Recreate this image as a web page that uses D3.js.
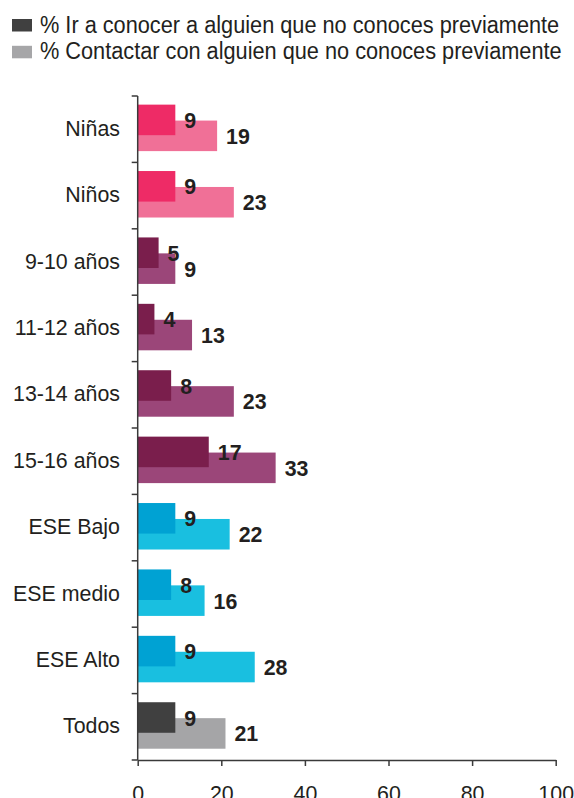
<!DOCTYPE html>
<html>
<head>
<meta charset="utf-8">
<script src="https://cdn.jsdelivr.net/npm/d3@7"></script>
<style>
  html, body { margin: 0; padding: 0; background: #fff; }
  svg { display: block; font-family: Arial, "Liberation Sans", sans-serif; }
</style>
</head>
<body>
<svg id="chart" width="574" height="798"></svg>
<script>
// Survey segments, top to bottom
const categories = ["Niñas", "Niños", "9-10 años", "11-12 años", "13-14 años",
                    "15-16 años", "ESE Bajo", "ESE medio", "ESE Alto", "Todos"];
// Segment family used to pick colours
const groups = ["genero", "genero", "edad", "edad", "edad",
                "edad", "ese", "ese", "ese", "total"];
// % Ir a conocer a alguien que no conoces previamente
const meetValues = [9, 9, 5, 4, 8, 17, 9, 8, 9, 9];
// % Contactar con alguien que no conoces previamente
const contactValues = [19, 23, 9, 13, 23, 33, 22, 16, 28, 21];
const xTicks = [0, 20, 40, 60, 80, 100];
const seriesNames = ["% Ir a conocer a alguien que no conoces previamente",
                     "% Contactar con alguien que no conoces previamente"];

const palette = {
  genero: { dark: "#ee2b66", light: "#f07097" },
  edad:   { dark: "#7a1e4c", light: "#9b4679" },
  ese:    { dark: "#00a2d3", light: "#19bfe0" },
  total:  { dark: "#404040", light: "#a5a5a7" }
};
const legendColors = ["#404040", "#a6a6a8"];

const FONT = 23;       // base font size
const SQUEEZE = 0.93;  // horizontal condensing of chart glyphs
const axisColor = "#3a3a3a";
const textColor = "#231f20";

const svg = d3.select("#chart");
const rows = categories.map((c, i) => ({
  cat: c, group: groups[i], meet: meetValues[i], contact: contactValues[i]
}));

const x = d3.scaleLinear().domain([0, 100]).range([137.7, 555.7]);
const y = d3.scaleBand().domain(categories).range([96, 760]).padding(0);
const bw = y.bandwidth();
const barH = bw * 0.46;
const darkOff = bw * 0.13;
const lightOff = bw * 0.37;

// Places a condensed text at (px, py) via a transform
function putText(sel, px, py, squeeze) {
  sel.attr("x", 0).attr("y", 0)
    .attr("transform", function (d, i) {
      const tx = typeof px === "function" ? px(d, i) : px;
      const ty = typeof py === "function" ? py(d, i) : py;
      return `translate(${tx},${ty}) scale(${squeeze},1)`;
    });
  return sel;
}

// Legend
const legend = svg.append("g");
seriesNames.forEach((name, i) => {
  const base = [32.5, 59.3][i];
  legend.append("rect")
    .attr("x", 12).attr("y", base - 13.5).attr("width", 20).attr("height", 12.5)
    .attr("fill", legendColors[i]);
  putText(legend.append("text"), 40, base, 0.945)
    .attr("font-size", FONT).attr("fill", textColor)
    .text(name);
});

// Bars: contact (light, behind) then meet (dark, in front)
const rowG = svg.append("g").selectAll("g").data(rows).join("g");
rowG.append("rect")
  .attr("x", x(0))
  .attr("y", d => y(d.cat) + lightOff)
  .attr("width", d => x(d.contact) - x(0))
  .attr("height", barH)
  .attr("fill", d => palette[d.group].light);
rowG.append("rect")
  .attr("x", x(0))
  .attr("y", d => y(d.cat) + darkOff)
  .attr("width", d => x(d.meet) - x(0))
  .attr("height", barH)
  .attr("fill", d => palette[d.group].dark);

// Value labels
putText(rowG.append("text"),
        d => x(d.contact) + 9, d => y(d.cat) + lightOff + barH / 2 + 8, SQUEEZE)
  .attr("font-size", FONT).attr("font-weight", "bold").attr("fill", textColor)
  .text(d => d.contact);
putText(rowG.append("text"),
        d => x(d.meet) + 9, d => y(d.cat) + darkOff + barH / 2 + 8, SQUEEZE)
  .attr("font-size", FONT).attr("font-weight", "bold").attr("fill", textColor)
  .text(d => d.meet);

// Category axis (ticks on band boundaries)
const yAxis = svg.append("g");
yAxis.append("line")
  .attr("x1", x(0)).attr("x2", x(0))
  .attr("y1", y.range()[0]).attr("y2", y.range()[1])
  .attr("stroke", axisColor).attr("stroke-width", 1.5);
const bounds = categories.map(c => y(c)).concat([y.range()[1]]);
yAxis.selectAll("line.tk").data(bounds).join("line")
  .attr("class", "tk")
  .attr("x1", x(0) - 6).attr("x2", x(0))
  .attr("y1", d => d).attr("y2", d => d)
  .attr("stroke", axisColor).attr("stroke-width", 1.5);
putText(yAxis.selectAll("text").data(categories).join("text"),
        120, d => y(d) + bw / 2 + 6.5, SQUEEZE)
  .attr("text-anchor", "end")
  .attr("font-size", FONT).attr("fill", textColor)
  .text(d => d);

// Value axis
const xAxis = svg.append("g")
  .attr("transform", `translate(0,${y.range()[1]})`)
  .call(d3.axisBottom(x).tickValues(xTicks).tickSize(6).tickSizeOuter(0).tickPadding(0));
xAxis.select(".domain").attr("stroke", axisColor).attr("stroke-width", 1.5);
xAxis.selectAll(".tick line").attr("stroke", axisColor).attr("stroke-width", 1.5);
xAxis.selectAll(".tick text")
  .attr("dy", null)
  .attr("x", 0).attr("y", 0)
  .attr("transform", `translate(0,40.5) scale(${SQUEEZE},1)`)
  .attr("font-size", FONT)
  .attr("font-family", "Arial, Liberation Sans, sans-serif")
  .attr("fill", textColor);
</script>
</body>
</html>
